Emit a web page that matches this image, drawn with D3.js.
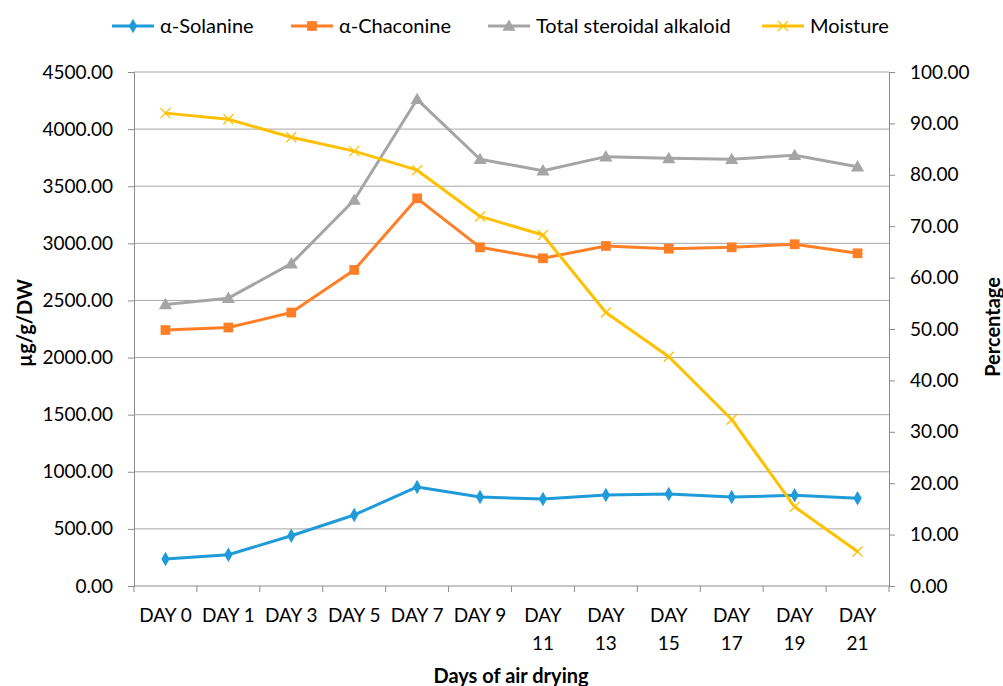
<!DOCTYPE html>
<html>
<head>
<meta charset="utf-8">
<script src="https://cdn.jsdelivr.net/npm/d3@7"></script>
<style>
  body { margin: 0; background: #fff; }
  text { font-family: "Lato", "Liberation Sans", sans-serif; fill: #000; }
</style>
</head>
<body>
<svg id="chart" width="1003" height="686"></svg>
<script>
// categories
var days = ["DAY 0", "DAY 1", "DAY 3", "DAY 5", "DAY 7", "DAY 9",
            "DAY 11", "DAY 13", "DAY 15", "DAY 17", "DAY 19", "DAY 21"];

// series (µg/g/DW, left axis)
var solanine = [236, 274, 440, 622, 867, 779, 762, 797, 805, 779, 794, 768];
var chaconine = [2241, 2263, 2394, 2767, 3394, 2965, 2869, 2977, 2953, 2965, 2992, 2913];
var totalAlk = [2465, 2520, 2822, 3379, 4261, 3736, 3636, 3759, 3744, 3736, 3771, 3671];
// moisture (%, right axis)
var moisture = [92.0, 90.8, 87.3, 84.6, 80.9, 71.9, 68.3, 53.2, 44.6, 32.4, 15.4, 6.7];

var leftTicks = [0, 500, 1000, 1500, 2000, 2500, 3000, 3500, 4000, 4500];
var rightTicks = [0, 10, 20, 30, 40, 50, 60, 70, 80, 90, 100];

var svg = d3.select("#chart");
var x0 = 134, x1 = 889, yTop = 72, yBot = 586;
var fs = 19;

var x = d3.scaleBand().domain(days).range([x0, x1]);
var yL = d3.scaleLinear().domain([0, 4500]).range([yBot, yTop]);
var yR = d3.scaleLinear().domain([0, 100]).range([yBot, yTop]);

var axisColor = "#8c8c8c";

// gridlines
svg.append("g").selectAll("line")
   .data(leftTicks.slice(1))
   .enter().append("line")
   .attr("x1", x0).attr("x2", x1)
   .attr("y1", function(d) { return yL(d); })
   .attr("y2", function(d) { return yL(d); })
   .attr("stroke", "#a6a6a6").attr("stroke-width", 1);

// left axis
var gL = svg.append("g").attr("transform", "translate(" + x0 + ",0)")
   .call(d3.axisLeft(yL).tickValues(leftTicks).tickFormat(d3.format(".2f")).tickSizeOuter(0).tickSize(6).tickPadding(15));
// right axis
var gR = svg.append("g").attr("transform", "translate(" + x1 + ",0)")
   .call(d3.axisRight(yR).tickValues(rightTicks).tickFormat(d3.format(".2f")).tickSizeOuter(0).tickSize(6).tickPadding(15));
// bottom axis with ticks at category boundaries
var gB = svg.append("g").attr("transform", "translate(0," + yBot + ")");
gB.append("line").attr("x1", x0).attr("x2", x1).attr("y1", 0).attr("y2", 0).attr("stroke", axisColor);
gB.selectAll(".bt").data(d3.range(days.length + 1)).enter().append("line")
   .attr("x1", function(i) { return x0 + i * x.bandwidth(); })
   .attr("x2", function(i) { return x0 + i * x.bandwidth(); })
   .attr("y1", 0).attr("y2", 6).attr("stroke", axisColor);
gB.selectAll(".bl").data(days).enter().append("text")
   .attr("text-anchor", "middle")
   .attr("font-size", fs)
   .attr("x", function(d) { return x(d) + x.bandwidth() / 2; })
   .attr("y", 36)
   .each(function(d) {
       var parts = d.split(" ");
       var t = d3.select(this);
       if (+parts[1] >= 10) {
           // long labels wrap onto two lines
           t.append("tspan").attr("x", x(d) + x.bandwidth() / 2).text(parts[0]);
           t.append("tspan").attr("x", x(d) + x.bandwidth() / 2).attr("dy", 28).text(parts[1]);
       } else {
           t.text(d);
       }
   });

[gL, gR].forEach(function(g) {
    g.selectAll("path.domain").attr("stroke", axisColor);
    g.selectAll(".tick line").attr("stroke", axisColor);
    g.selectAll(".tick text").attr("font-size", fs).attr("font-family", "Lato, sans-serif").attr("fill", "#000");
});

// axis titles
svg.append("text").attr("transform", "translate(32,323) rotate(-90)")
   .attr("text-anchor", "middle").attr("font-size", 20).attr("font-weight", "bold").text("µg/g/DW");
svg.append("text").attr("transform", "translate(1000,327) rotate(-90)")
   .attr("text-anchor", "middle").attr("font-size", 20).attr("font-weight", "bold").text("Percentage");
svg.append("text").attr("x", 511).attr("y", 683)
   .attr("text-anchor", "middle").attr("font-size", 20).attr("font-weight", "bold").text("Days of air drying");

var cx = function(i) { return x(days[i]) + x.bandwidth() / 2; };

var series = [
    { name: "α-Solanine", values: solanine, scale: yL, color: "#1F9BD9", marker: "diamond" },
    { name: "α-Chaconine", values: chaconine, scale: yL, color: "#FF7F27", marker: "square" },
    { name: "Total steroidal alkaloid", values: totalAlk, scale: yL, color: "#A5A5A5", marker: "triangle" },
    { name: "Moisture", values: moisture, scale: yR, color: "#FFC000", marker: "x" }
];

function drawMarker(g, type, color, px, py) {
    if (type === "x") {
        g.append("path").attr("d", "M" + (px - 5) + "," + (py - 5) + "L" + (px + 5) + "," + (py + 5) +
                           "M" + (px - 5) + "," + (py + 5) + "L" + (px + 5) + "," + (py - 5))
         .attr("stroke", color).attr("stroke-width", 1.3).attr("fill", "none");
        return;
    }
    var sym = type === "diamond" ? d3.symbolDiamond : type === "square" ? d3.symbolSquare : d3.symbolTriangle;
    var size = type === "diamond" ? 60 : type === "square" ? 95 : 75;
    g.append("path").attr("d", d3.symbol().type(sym).size(size)())
     .attr("transform", "translate(" + px + "," + (py + (type === "triangle" ? 1 : 0)) + ")")
     .attr("fill", color);
}

series.forEach(function(s) {
    var line = d3.line().x(function(d, i) { return cx(i); }).y(function(d) { return s.scale(d); });
    svg.append("path").datum(s.values).attr("d", line)
       .attr("fill", "none").attr("stroke", s.color).attr("stroke-width", 3).attr("stroke-linejoin", "round");
    var mg = svg.append("g");
    s.values.forEach(function(v, i) { drawMarker(mg, s.marker, s.color, cx(i), s.scale(v)); });
});

// legend
var legendX = [112, 291, 488, 762];
var lg = svg.append("g");
series.forEach(function(s, i) {
    var lx = legendX[i], ly = 26;
    lg.append("line").attr("x1", lx).attr("x2", lx + 42).attr("y1", ly).attr("y2", ly)
      .attr("stroke", s.color).attr("stroke-width", 3);
    drawMarker(lg, s.marker, s.color, lx + 21, ly);
    lg.append("text").attr("x", lx + 48).attr("y", ly + 7).attr("font-size", 20).text(s.name);
});
</script>
</body>
</html>
